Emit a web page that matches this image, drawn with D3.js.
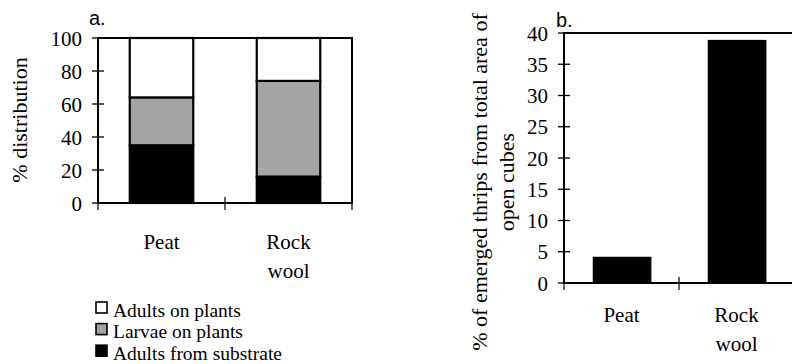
<!DOCTYPE html>
<html>
<head>
<meta charset="utf-8">
<script src="https://cdn.jsdelivr.net/npm/d3@7"></script>
<style>
  body { margin: 0; background: #fff; }
  svg { display: block; }
</style>
</head>
<body>
<svg id="chart" width="792" height="364"></svg>
<script>
"use strict";

// data
var categories = ["Peat", "Rock wool"];
var adultsSubstrate = [35, 16];
var larvaePlants = [29, 58];
var adultsPlants = [36, 26];
var emerged = [4.2, 38.9];

var ticksA = [0, 20, 40, 60, 80, 100];
var ticksB = [0, 5, 10, 15, 20, 25, 30, 35, 40];

var legendItems = [
  {label: "Adults on plants", fill: "#ffffff"},
  {label: "Larvae on plants", fill: "#a4a4a4"},
  {label: "Adults from substrate", fill: "#000000"}
];

var SERIF = "'Liberation Serif', 'Times New Roman', serif";
var SANS = "'Liberation Sans', Arial, sans-serif";

var svg = d3.select("#chart");

var catLabel = function(g, x, y0) {
  // category names, one word per line
  g.selectAll("text.cat")
    .data(categories)
    .enter().append("text")
    .attr("class", "cat")
    .attr("text-anchor", "middle")
    .attr("font-family", SERIF)
    .attr("font-size", 21)
    .each(function(d) {
      var t = d3.select(this);
      d.split(" ").forEach(function(w, i) {
        t.append("tspan")
          .attr("x", x(d) + x.bandwidth() / 2)
          .attr("y", y0 + i * 29)
          .text(w);
      });
    });
}

var yTicks = function(g, y, ticks, x0) {
  g.selectAll("line.yt")
    .data(ticks)
    .enter().append("line")
    .attr("class", "yt")
    .attr("x1", x0 - 6).attr("x2", x0 + 6)
    .attr("y1", d => y(d)).attr("y2", d => y(d))
    .attr("stroke", "#000").attr("stroke-width", 1.3);
  g.selectAll("text.yl")
    .data(ticks)
    .enter().append("text")
    .attr("class", "yl")
    .attr("x", x0 - 16)
    .attr("y", d => y(d))
    .attr("dy", "0.36em")
    .attr("text-anchor", "end")
    .attr("font-family", SERIF)
    .attr("font-size", 21)
    .text(d => d);
}

/* ---------- panel a ---------- */
var ga = svg.append("g");
var xa = d3.scaleBand().domain(categories).range([98, 352]).padding(0);
var ya = d3.scaleLinear().domain([0, 100]).range([203, 38]);

var rows = categories.map(function(c, i) {
  return {cat: c, sub: adultsSubstrate[i], larv: larvaePlants[i], adp: adultsPlants[i]};
});
var stack = d3.stack().keys(["sub", "larv", "adp"])(rows);
var fills = {sub: "#000", larv: "#a4a4a4", adp: "#fff"};

ga.append("g").selectAll("g")
  .data(stack)
  .enter().append("g")
  .attr("fill", d => fills[d.key])
  .selectAll("rect")
  .data(d => d)
  .enter().append("rect")
  .attr("x", d => xa(d.data.cat) + xa.bandwidth() * 0.25)
  .attr("width", xa.bandwidth() * 0.5)
  .attr("y", d => ya(d[1]))
  .attr("height", d => ya(d[0]) - ya(d[1]))
  .attr("stroke", "#000")
  .attr("stroke-width", 2.2);

// frame
ga.append("rect")
  .attr("x", xa.range()[0]).attr("y", ya(100))
  .attr("width", xa.range()[1] - xa.range()[0])
  .attr("height", ya(0) - ya(100))
  .attr("fill", "none").attr("stroke", "#000").attr("stroke-width", 2);

yTicks(ga, ya, ticksA, 98);

ga.selectAll("line.xt")
  .data([xa.range()[0], xa(categories[1]), xa.range()[1]])
  .enter().append("line")
  .attr("x1", d => d).attr("x2", d => d)
  .attr("y1", ya(0) - 6).attr("y2", ya(0) + 7)
  .attr("stroke", "#000").attr("stroke-width", 1.2);

catLabel(ga, xa, 249);

ga.append("text")
  .attr("transform", "translate(27,120) rotate(-90)")
  .attr("text-anchor", "middle")
  .attr("font-family", SERIF)
  .attr("font-size", 22)
  .text("% distribution");

ga.append("text")
  .attr("x", 89).attr("y", 25)
  .attr("font-family", SANS)
  .attr("font-size", 20)
  .text("a.");

// legend
var lg = ga.append("g").selectAll("g")
  .data(legendItems)
  .enter().append("g")
  .attr("transform", (d, i) => "translate(96," + (302 + i * 21.6) + ")");
lg.append("rect")
  .attr("width", 11).attr("height", 11)
  .attr("fill", d => d.fill)
  .attr("stroke", "#000").attr("stroke-width", 1.6);
lg.append("text")
  .attr("x", 17).attr("y", 14.5)
  .attr("font-family", SERIF)
  .attr("font-size", 19.5)
  .text(d => d.label);

/* ---------- panel b ---------- */
var gb = svg.append("g");
var xb = d3.scaleBand().domain(categories).range([564, 794]).padding(0);
var yb = d3.scaleLinear().domain([0, 40]).range([283, 33]);

gb.selectAll("rect.bar")
  .data(emerged)
  .enter().append("rect")
  .attr("class", "bar")
  .attr("x", (d, i) => xb(categories[i]) + xb.bandwidth() * 0.25)
  .attr("width", xb.bandwidth() * 0.51)
  .attr("y", d => yb(d))
  .attr("height", d => yb(0) - yb(d))
  .attr("fill", "#000");

gb.append("path")
  .attr("d", "M" + xb.range()[1] + "," + yb(40) + "H564V" + yb(0) + "H" + xb.range()[1])
  .attr("fill", "none").attr("stroke", "#000").attr("stroke-width", 2);

yTicks(gb, yb, ticksB, 564);

gb.selectAll("line.xt")
  .data([xb.range()[0], xb(categories[1])])
  .enter().append("line")
  .attr("x1", d => d).attr("x2", d => d)
  .attr("y1", yb(0) - 6).attr("y2", yb(0) + 7)
  .attr("stroke", "#000").attr("stroke-width", 1.2);

catLabel(gb, xb, 322);

var yl = gb.append("text")
  .attr("transform", "translate(487,182) rotate(-90)")
  .attr("text-anchor", "middle")
  .attr("font-family", SERIF)
  .attr("font-size", 22);
yl.append("tspan").attr("x", 0).attr("y", 0).text("% of emerged thrips from total area of");
yl.append("tspan").attr("x", 0).attr("y", 27).text("open cubes");

gb.append("text")
  .attr("x", 556).attr("y", 27)
  .attr("font-family", SANS)
  .attr("font-size", 20)
  .text("b.");
</script>
</body>
</html>
